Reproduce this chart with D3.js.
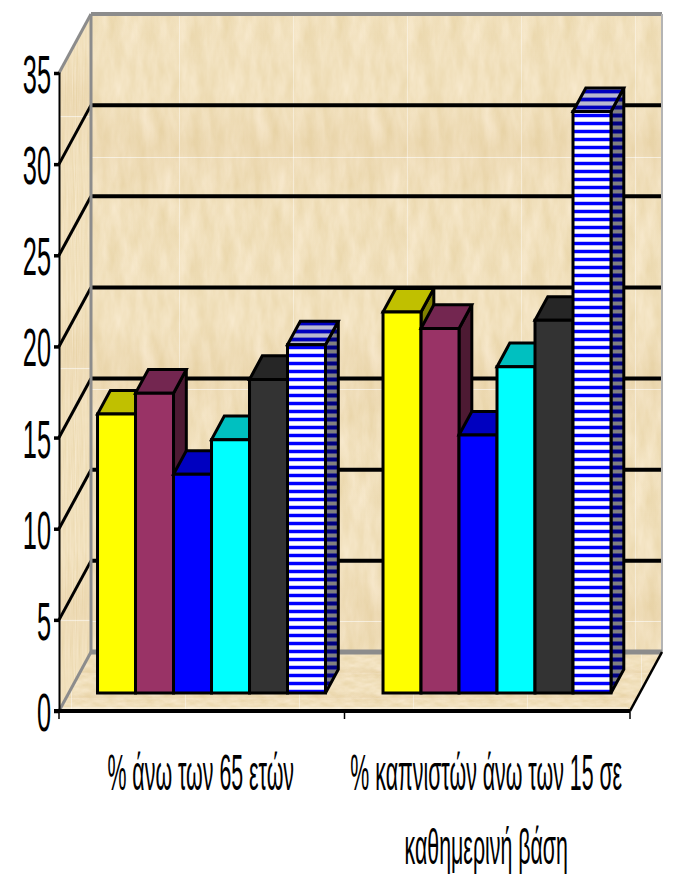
<!DOCTYPE html>
<html>
<head>
<meta charset="utf-8">
<script src="https://cdn.jsdelivr.net/npm/d3@7"></script>
<style>
  html, body { margin: 0; padding: 0; background: #fff; }
  svg { display: block; }
  text { font-family: "Liberation Sans", Arial, sans-serif; fill: #000; }
</style>
</head>
<body>
<svg id="chart" width="674" height="879"></svg>
<script>
// Chart content
const categories = ["% άνω των 65 ετών", "% καπνιστών άνω των 15 σε καθημερινή βάση"];
const yTicks = [0, 5, 10, 15, 20, 25, 30, 35];
const valuesOver65 = [15.3, 16.45, 12, 13.9, 17.2, 19.1];
const valuesSmokers = [20.9, 20, 14.15, 17.9, 20.45, 31.9];
const seriesFront = ["#ffff00", "#993366", "#0000ff", "#00ffff", "#333333", "url(#stripeFront)"];
const seriesTop = ["#c0c000", "#732650", "#0000c0", "#00c0c0", "#262626", "url(#stripeTop)"];
const seriesSide = ["#808000", "#4d1a33", "#000080", "#008080", "#1a1a1a", "url(#stripeSide)"];
const seriesIndex = d3.range(seriesFront.length);

const svg = d3.select("#chart");
const defs = svg.append("defs");

// Plot frame and oblique projection of the 3D box
const plot = { left: 59, right: 630, bottom: 711, top: 73, depthX: 32, depthY: 59 };
const y = d3.scaleLinear().domain([0, 35]).range([plot.bottom, plot.top]);
const x0 = d3.scaleBand().domain(categories).range([plot.left, plot.right]);
const x1 = d3.scaleBand().domain(seriesIndex).range([0, x0.bandwidth()]).paddingInner(0).paddingOuter(0.757);
const barDepth = { near: 0.305, far: 0.705 };
const project = (px, value, depth) => [px + depth * plot.depthX, y(value) - depth * plot.depthY];

// Wood grain: a noise filter tinted to pale oak
const grain = defs.append("filter").attr("id", "grain")
  .attr("x", 0).attr("y", 0).attr("width", 1).attr("height", 1)
  .attr("color-interpolation-filters", "sRGB");
grain.append("feTurbulence").attr("type", "fractalNoise")
  .attr("baseFrequency", "0.07 0.0216").attr("numOctaves", 4).attr("seed", 7).attr("stitchTiles", "stitch");
grain.append("feColorMatrix").attr("type", "matrix").attr("values",
  "0.08 0 0 0 0.905  0.11 0 0 0 0.825  0.2 0 0 0 0.64  0 0 0 0 1");

const bandGrad = defs.append("linearGradient").attr("id", "tileShade").attr("x1", 0).attr("x2", 0).attr("y1", 0).attr("y2", 1);
[[0, 0.07], [0.2, 0.01], [0.72, 0], [0.85, 0.05], [1, 0.09]].forEach(([o, a]) =>
  bandGrad.append("stop").attr("offset", o).attr("stop-color", "#c89a60").attr("stop-opacity", a));

function woodPattern(id, transform) {
  const p = defs.append("pattern").attr("id", id).attr("patternUnits", "userSpaceOnUse")
    .attr("width", 114).attr("height", 232).attr("patternTransform", transform);
  p.append("rect").attr("width", 114).attr("height", 232).attr("filter", "url(#grain)");
  p.append("rect").attr("width", 114).attr("height", 232).attr("fill", "url(#tileShade)");
  p.append("rect").attr("width", 1).attr("height", 232).attr("fill", "#fff").attr("opacity", 0.4);
  p.append("rect").attr("width", 114).attr("height", 1).attr("fill", "#fff").attr("opacity", 0.55);
}
woodPattern("woodBack", "translate(65,157)");
woodPattern("woodSide", "translate(58,116) scale(0.0746,1.086)");
woodPattern("woodFloor", "translate(71,648) scale(1,0.1078)");

// Striped fill of the last series
function stripes(id, dark, light, edge) {
  const p = defs.append("pattern").attr("id", id).attr("patternUnits", "userSpaceOnUse")
    .attr("width", 8).attr("height", 8).attr("patternTransform", "translate(0,2)");
  p.append("rect").attr("width", 8).attr("height", 8).attr("fill", light);
  p.append("rect").attr("width", 8).attr("y", 0).attr("height", 3).attr("fill", dark);
  p.append("rect").attr("width", 8).attr("y", 3).attr("height", 1).attr("fill", edge);
  p.append("rect").attr("width", 8).attr("y", 7).attr("height", 1).attr("fill", edge);
}
stripes("stripeFront", "#0000ff", "#ffffff", "#c4c4ff");
stripes("stripeSide", "#000080", "#808080", "#404088");
stripes("stripeTop", "#0000c0", "#b8b8d0", "#7070c0");

const poly = pts => pts.map(p => p.join(",")).join(" ");

// Walls and floor
const backWall = [project(plot.left, 35, 1), project(plot.right, 35, 1), project(plot.right, 0, 1), project(plot.left, 0, 1)];
const sideWall = [project(plot.left, 35, 0), project(plot.left, 35, 1), project(plot.left, 0, 1), project(plot.left, 0, 0)];
const floor = [project(plot.left, 0, 0), project(plot.left, 0, 1), project(plot.right, 0, 1), project(plot.right, 0, 0)];
svg.append("polygon").attr("points", poly(backWall)).attr("fill", "url(#woodBack)");
svg.append("polygon").attr("points", poly(sideWall)).attr("fill", "url(#woodSide)");
svg.append("polygon").attr("points", poly(floor)).attr("fill", "url(#woodFloor)");
// Pale lip along the front of the floor
svg.append("line").attr("x1", plot.left + 3).attr("x2", plot.right - 2)
  .attr("y1", plot.bottom - 3).attr("y2", plot.bottom - 3).attr("stroke", "#fff").attr("stroke-opacity", 0.7);

// Gridlines on the side wall and the back wall
yTicks.slice(1, -1).forEach(v => {
  const a = project(plot.left, v, 0), b = project(plot.left, v, 1), c = project(plot.right, v, 1);
  svg.append("polyline").attr("points", poly([a, b])).attr("fill", "none").attr("stroke", "#000").attr("stroke-width", 3);
  svg.append("polyline").attr("points", poly([b, c])).attr("fill", "none").attr("stroke", "#000").attr("stroke-width", 4);
});

// Grey outline of the walls
const frame = "#8c8c8c";
const seg = (a, b, w, col = frame) => svg.append("line")
  .attr("x1", a[0]).attr("y1", a[1]).attr("x2", b[0]).attr("y2", b[1])
  .attr("stroke", col).attr("stroke-width", w);
seg(project(plot.left, 35, 1), project(plot.right, 35, 1), 4);
seg(project(plot.left, 35, 0), project(plot.left, 35, 1), 3);
seg(project(plot.left, 35, 1), project(plot.left, 0, 1), 3);
seg(project(plot.right, 35, 1), project(plot.right, 0, 1), 2, "#b4b4b4");
seg(project(plot.left, 0, 1), project(plot.right, 0, 1), 5);
seg(project(plot.left, 0, 0), project(plot.left, 0, 1), 3);

// Bars, painted left to right so each one overlaps its neighbour's side face
const barsLayer = svg.append("g");
const groups = [valuesOver65, valuesSmokers];
categories.forEach((cat, ci) => {
  groups[ci].forEach((v, si) => {
    const xa = x0(cat) + x1(si), xb = xa + x1.bandwidth();
    const fa = project(xa, v, barDepth.near), fb = project(xb, v, barDepth.near);
    const ra = project(xa, v, barDepth.far), rb = project(xb, v, barDepth.far);
    const f0a = project(xa, 0, barDepth.near), f0b = project(xb, 0, barDepth.near);
    const r0b = project(xb, 0, barDepth.far);
    const g = barsLayer.append("g").attr("stroke", "#000").attr("stroke-width", 3).attr("stroke-linejoin", "miter");
    g.append("polygon").attr("points", poly([fb, rb, r0b, f0b])).attr("fill", seriesSide[si]);
    g.append("polygon").attr("points", poly([fa, ra, rb, fb])).attr("fill", seriesTop[si]);
    g.append("polygon").attr("points", poly([fa, fb, f0b, f0a])).attr("fill", seriesFront[si]);
  });
});

// Value axis
const yAxis = svg.append("g").attr("transform", `translate(${plot.left},0)`)
  .call(d3.axisLeft(y).tickValues(yTicks).tickFormat(d3.format("d")).tickSize(5).tickPadding(0));
yAxis.select(".domain").attr("stroke", "#000").attr("stroke-width", 2);
yAxis.selectAll(".tick line").attr("stroke", "#000").attr("stroke-width", 3.5);
yAxis.selectAll(".tick text")
  .attr("x", 0).attr("dy", "0.36em")
  .style("font-size", "54px")
  .attr("text-anchor", "end")
  .attr("transform", "translate(-8,0) scale(0.47,1)");

// Category axis: the heavy base line, tick marks and wrapped labels
svg.append("line").attr("x1", plot.left - 5).attr("x2", plot.right)
  .attr("y1", plot.bottom).attr("y2", plot.bottom).attr("stroke", "#000").attr("stroke-width", 4);
seg(project(plot.right, 0, 0), project(plot.right, 0, 1), 2.6, "#000");
[plot.left, (plot.left + plot.right) / 2, plot.right].forEach(px =>
  svg.append("line").attr("x1", px).attr("x2", px).attr("y1", plot.bottom).attr("y2", plot.bottom + 8)
    .attr("stroke", "#000").attr("stroke-width", 1.5));

const wrapLimit = 26;
function wrapped(label) {
  const lines = [[]];
  label.split(" ").forEach(word => {
    const cur = lines[lines.length - 1];
    if (cur.concat(word).join(" ").length > wrapLimit) lines.push([word]);
    else cur.push(word);
  });
  return lines.map(l => l.join(" "));
}
categories.forEach(cat => {
  const cx = x0(cat) + x0.bandwidth() / 2 - 1;
  wrapped(cat).forEach((line, i) => {
    svg.append("text")
      .attr("text-anchor", "middle")
      .attr("transform", `translate(${cx},${790 + i * 74}) scale(0.427,1)`)
      .style("font-size", "50px")
      .text(line);
  });
});
</script>
</body>
</html>
